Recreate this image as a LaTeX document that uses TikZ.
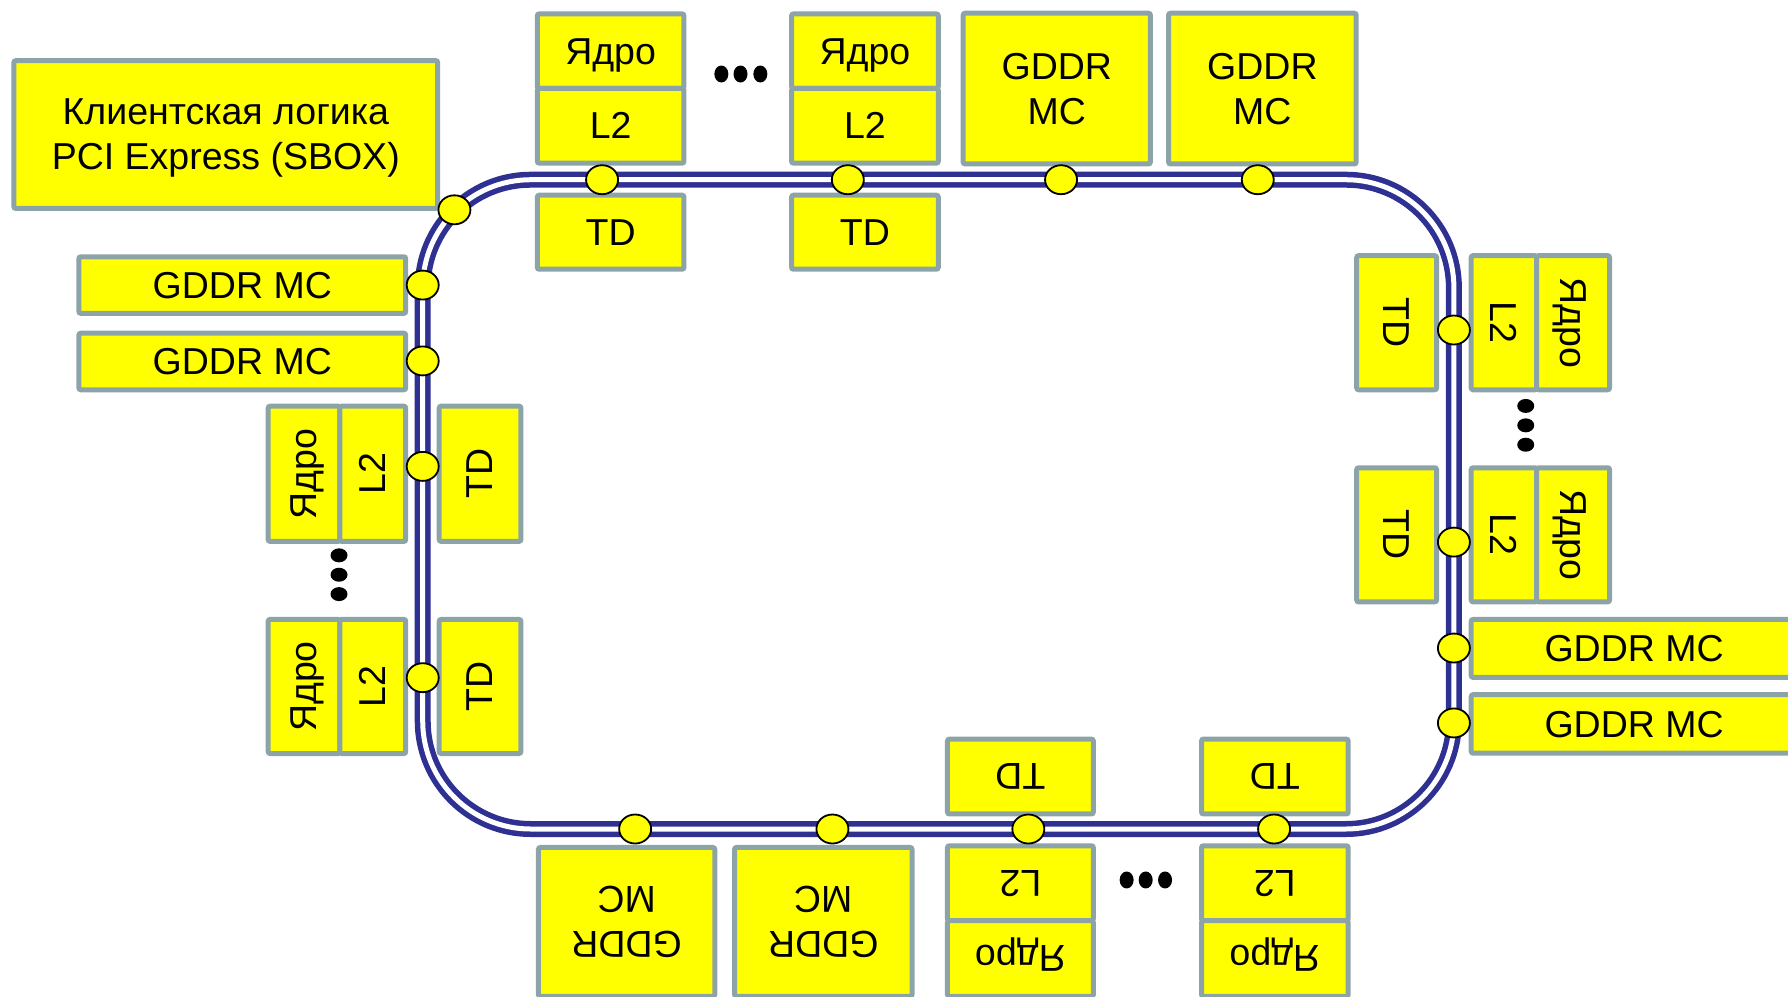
\documentclass[tikz,border=0pt]{standalone}
\usepackage{fontspec}
\setmainfont{Liberation Sans}
\usepackage{graphicx}
\usetikzlibrary{shapes.geometric}
\definecolor{boxyellow}{RGB}{255,255,0}
\definecolor{boxgray}{RGB}{140,164,167}
\definecolor{ringblue}{RGB}{46,49,146}
\newcommand\mybox[7][]{\node[box,#1,minimum width={(#5-#3)*1.140306pt-5pt},minimum height={(#6-#4)*1.140306pt-5pt}] (#2) at ({(#3+#5)/2},{(#4+#6)/2}) {#7};}
\newcommand\up[1]{\rotatebox{90}{\raisebox{0pt}[\height][0pt]{#1}}}
\newcommand\dn[1]{\raisebox{\depth}{\rotatebox{-90}{\raisebox{0pt}[\height][0pt]{#1}}}}
\begin{document}
\begin{tikzpicture}[x=1.140306pt,y=-1.140306pt,
 box/.style={draw=boxgray,fill=boxyellow,line width=5pt,rounded corners=2pt,inner sep=0pt,text depth=0pt,align=center,font=\fontsize{37.5}{45}\selectfont},
 stop/.style={ellipse,draw=black,fill=boxyellow,line width=1.8pt,minimum width=32pt,minimum height=29pt,inner sep=0pt},
 hdot/.style={ellipse,fill=black,minimum width=14pt,minimum height=17pt,inner sep=0pt},
 vdot/.style={ellipse,fill=black,minimum width=17pt,minimum height=14pt,inner sep=0pt},
 ring/.style={draw=ringblue,line width=5.5pt,double=white,double distance=5pt,rounded corners=108pt}]
\useasboundingbox[fill=white] (0,0) rectangle (1568,873.46);

% ring
\coordinate (rTL) at (370.7,157.6);
\coordinate (rTR) at (1275,157.6);
\coordinate (rBR) at (1275,727);
\coordinate (rBL) at (370.7,727);
\draw[ring] (rTL) -- (rTR) -- (rBR) -- (rBL) -- cycle;

% top
\mybox{yaA}{469}{10}{602}{79.7}{Ядро}
\mybox{ltA}{469}{75.3}{602}{145.3}{L2}
\mybox{tdA}{469}{169}{602}{238.3}{TD}
\mybox{yaB}{692}{10}{825}{79.7}{Ядро}
\mybox{ltB}{692}{75.3}{825}{145.3}{L2}
\mybox{tdB}{692}{169}{825}{238.3}{TD}
\mybox{gT1}{842.5}{9.4}{1011}{146}{GDDR\\MC}
\mybox{gT2}{1022.6}{9.4}{1191.5}{146}{GDDR\\MC}
\mybox{sbox}{10}{51}{386}{185}{Клиентская логика\\PCI Express (SBOX)}

% left
\mybox{gL1}{67}{223}{358}{277}{GDDR MC}
\mybox{gL2}{67}{290}{358}{344}{GDDR MC}
\mybox{yaC}{233}{354}{300.2}{477}{\up{Ядро}}
\mybox{ltC}{295.8}{354}{358}{477}{\up{L2}}
\mybox{tdC}{383}{354}{459}{477}{\up{TD}}
\mybox{yaD}{233}{541}{300.2}{663}{\up{Ядро}}
\mybox{ltD}{295.8}{541}{358}{663}{\up{L2}}
\mybox{tdD}{383}{541}{459}{663}{\up{TD}}

% right
\mybox{tdE}{1187.6}{222}{1262}{344}{\dn{TD}}
\mybox{ltE}{1288}{222}{1349.8}{344}{\dn{L2}}
\mybox{yaE}{1345.4}{222}{1413.7}{344}{\dn{Ядро}}
\mybox{tdF}{1187.6}{408}{1262}{530}{\dn{TD}}
\mybox{ltF}{1288}{408}{1349.8}{530}{\dn{L2}}
\mybox{yaF}{1345.4}{408}{1413.7}{530}{\dn{Ядро}}
\mybox{gR1}{1288}{541}{1578}{596.3}{GDDR MC}
\mybox{gR2}{1288}{607}{1578}{662.7}{GDDR MC}

% bottom
\mybox[rotate=180]{tdG}{828.7}{646}{961}{716}{TD}
\mybox[rotate=180]{ltG}{828.7}{739.5}{961}{809.6}{L2}
\mybox[rotate=180]{yaG}{828.7}{805.2}{961}{876}{Ядро}
\mybox[rotate=180]{tdH}{1051.5}{646}{1184.5}{716}{TD}
\mybox[rotate=180]{ltH}{1051.5}{739.5}{1184.5}{809.6}{L2}
\mybox[rotate=180]{yaH}{1051.5}{805.2}{1184.5}{876}{Ядро}
\mybox[rotate=180]{gB1}{470}{741}{629}{876}{GDDR\\MC}
\mybox[rotate=180]{gB2}{642}{741}{802}{876}{GDDR\\MC}

% stops on the ring
\node[stop] (sTL) at (398.5,184) {};
\node[stop] (sT1) at (528,157.6) {};
\node[stop] (sT2) at (743.5,157.6) {};
\node[stop] (sT3) at (930.5,157.6) {};
\node[stop] (sT4) at (1103,157.6) {};
\node[stop] (sL1) at (370.7,250) {};
\node[stop] (sL2) at (370.7,316.5) {};
\node[stop] (sL3) at (370.7,409) {};
\node[stop] (sL4) at (370.7,594.3) {};
\node[stop] (sR1) at (1275,289.4) {};
\node[stop] (sR2) at (1275,475.4) {};
\node[stop] (sR3) at (1275,568.3) {};
\node[stop] (sR4) at (1275,634) {};
\node[stop] (sB1) at (557,727) {};
\node[stop] (sB2) at (730,727) {};
\node[stop] (sB3) at (901.8,727) {};
\node[stop] (sB4) at (1117.3,727) {};

% ellipsis dots
\node[hdot] (dT1) at (632.6,64.9) {};
\node[hdot] (dT2) at (649.4,64.9) {};
\node[hdot] (dT3) at (666.8,64.9) {};
\node[hdot] (dB1) at (988,771.7) {};
\node[hdot] (dB2) at (1004.7,771.7) {};
\node[hdot] (dB3) at (1021.7,771.7) {};
\node[vdot] (dL1) at (297.3,487) {};
\node[vdot] (dL2) at (297.3,504) {};
\node[vdot] (dL3) at (297.3,521) {};
\node[vdot] (dR1) at (1338,356) {};
\node[vdot] (dR2) at (1338,373) {};
\node[vdot] (dR3) at (1338,390) {};
\end{tikzpicture}
\end{document}
